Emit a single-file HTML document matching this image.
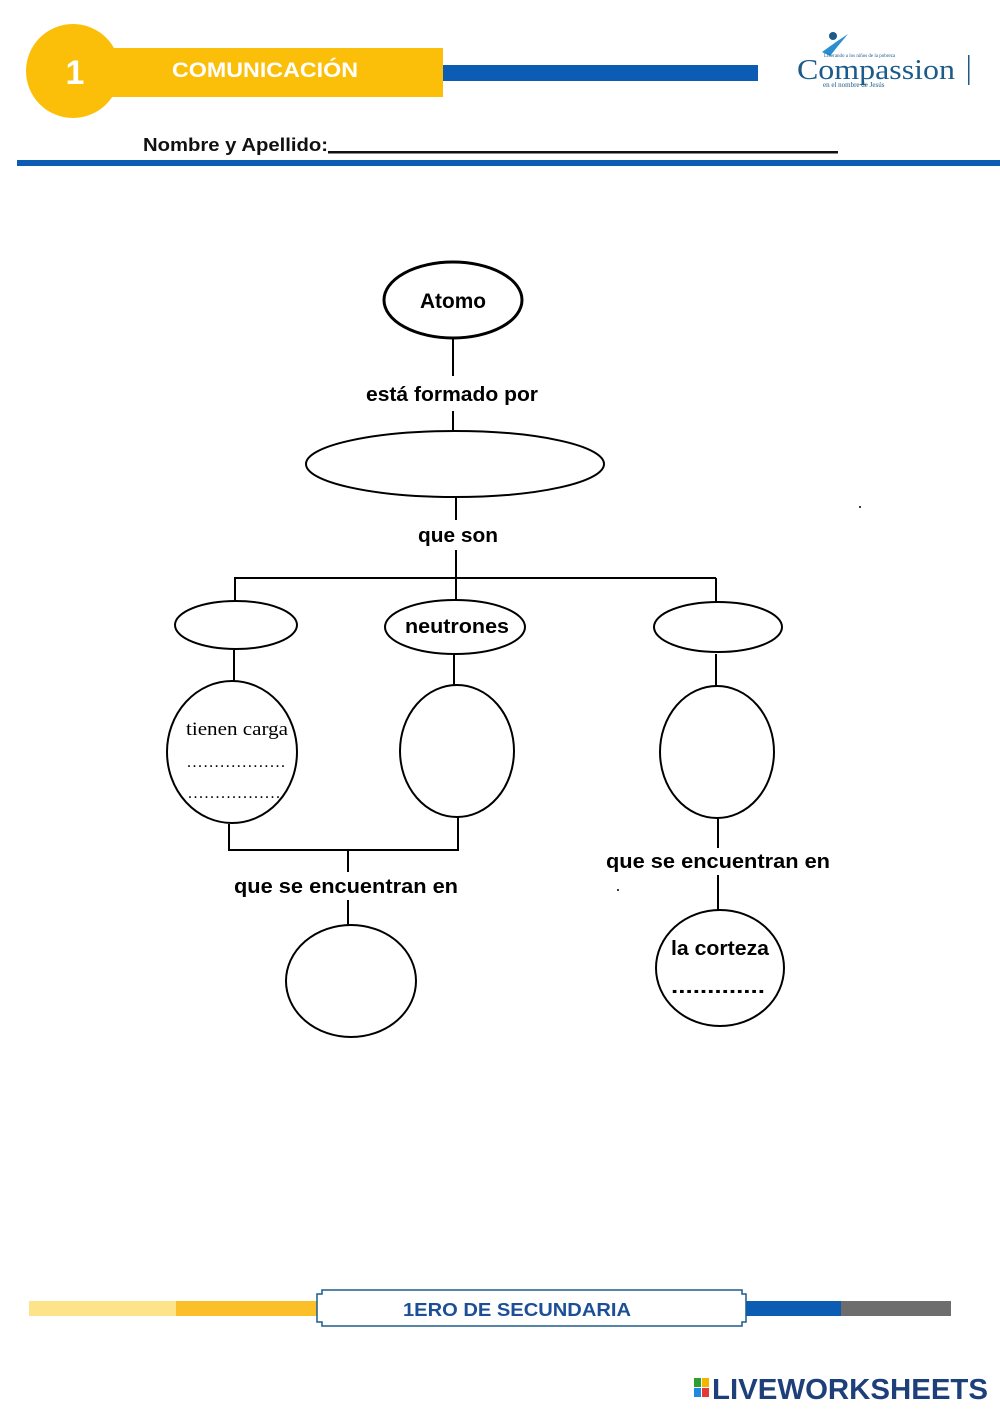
<!DOCTYPE html>
<html><head><meta charset="utf-8">
<style>
html,body{margin:0;padding:0;background:#fff;}
body{width:1000px;height:1414px;overflow:hidden;}
svg{display:block;}
</style></head><body>
<svg width="1000" height="1414" viewBox="0 0 1000 1414" xmlns="http://www.w3.org/2000/svg">
<!-- header -->
<circle cx="73" cy="71" r="47" fill="#fbbf0a"/>
<rect x="110" y="48" width="333" height="49" fill="#fbbf0a"/>
<rect x="443" y="65" width="315" height="16" fill="#0c5cb4"/>
<text x="75" y="84" font-family="Liberation Sans, sans-serif" font-weight="bold" font-size="34" fill="#fff" text-anchor="middle">1</text>
<text x="172" y="77" font-family="Liberation Sans, sans-serif" font-weight="bold" font-size="21" fill="#fff" textLength="186" lengthAdjust="spacingAndGlyphs">COMUNICACIÓN</text>
<!-- logo -->
<g fill="#1d5b8a">
<circle cx="833" cy="36" r="4"/>
<path d="M822 52 L836 42 L848 34 L838 46 L830 56 Z" fill="#2a8fd1"/>
</g>
<text x="797" y="79" font-family="Liberation Serif, serif" font-size="29" fill="#1d5b8a" textLength="158" lengthAdjust="spacingAndGlyphs">Compassion</text>
<text x="824" y="57" font-family="Liberation Serif, serif" font-size="5" fill="#1d5b8a">Liberando a los niños de la pobreza</text>
<text x="823" y="87" font-family="Liberation Serif, serif" font-size="7" fill="#1d5b8a">en el nombre de Jesús</text>
<rect x="968" y="55" width="1.5" height="30" fill="#1d5b8a"/>
<!-- name -->
<text x="143" y="151" font-family="Liberation Sans, sans-serif" font-weight="bold" font-size="18" fill="#111" textLength="185" lengthAdjust="spacingAndGlyphs">Nombre y Apellido:</text>
<rect x="328" y="151" width="510" height="2.5" fill="#111"/>
<rect x="17" y="160" width="983" height="6" fill="#0c5cb4"/>

<!-- diagram -->
<g fill="none" stroke="#000" stroke-width="2">
<ellipse cx="453" cy="300" rx="69" ry="38" stroke-width="3"/>
<line x1="453" y1="338" x2="453" y2="376"/>
<line x1="453" y1="411" x2="453" y2="431"/>
<ellipse cx="455" cy="464" rx="149" ry="33"/>
<line x1="456" y1="497" x2="456" y2="520"/>
<line x1="456" y1="550" x2="456" y2="600"/>
<line x1="234" y1="578" x2="716" y2="578"/>
<line x1="235" y1="578" x2="235" y2="601"/>
<line x1="716" y1="578" x2="716" y2="602"/>
<ellipse cx="236" cy="625" rx="61" ry="24"/>
<ellipse cx="455" cy="627" rx="70" ry="27"/>
<ellipse cx="718" cy="627" rx="64" ry="25"/>
<line x1="234" y1="650" x2="234" y2="681"/>
<ellipse cx="232" cy="752" rx="65" ry="71"/>
<line x1="454" y1="655" x2="454" y2="685"/>
<ellipse cx="457" cy="751" rx="57" ry="66"/>
<line x1="716" y1="654" x2="716" y2="686"/>
<ellipse cx="717" cy="752" rx="57" ry="66"/>
<polyline points="229,824 229,850 458,850 458,817"/>
<line x1="348" y1="850" x2="348" y2="872"/>
<line x1="348" y1="900" x2="348" y2="925"/>
<ellipse cx="351" cy="981" rx="65" ry="56"/>
<line x1="718" y1="818" x2="718" y2="848"/>
<line x1="718" y1="875" x2="718" y2="910"/>
<ellipse cx="720" cy="968" rx="64" ry="58"/>
</g>
<g font-family="Liberation Sans, sans-serif" font-weight="bold" fill="#000" text-anchor="middle">
<text x="453" y="308" font-size="21" textLength="66" lengthAdjust="spacingAndGlyphs">Atomo</text>
<text x="452" y="401" font-size="20" textLength="172" lengthAdjust="spacingAndGlyphs">está formado por</text>
<text x="458" y="542" font-size="20" textLength="80" lengthAdjust="spacingAndGlyphs">que son</text>
<text x="457" y="633" font-size="20" textLength="104" lengthAdjust="spacingAndGlyphs">neutrones</text>
<text x="346" y="893" font-size="20" textLength="224" lengthAdjust="spacingAndGlyphs">que se encuentran en</text>
<text x="718" y="868" font-size="20" textLength="224" lengthAdjust="spacingAndGlyphs">que se encuentran en</text>
<text x="720" y="955" font-size="20" textLength="98" lengthAdjust="spacingAndGlyphs">la corteza</text>
<text x="718" y="993" font-size="20" textLength="94" lengthAdjust="spacingAndGlyphs">.............</text>
</g>
<g font-family="Liberation Serif, serif" fill="#000" text-anchor="middle">
<text x="237" y="735" font-size="19" textLength="102" lengthAdjust="spacingAndGlyphs">tienen carga</text>
<text x="236" y="767" font-size="16" textLength="98" lengthAdjust="spacing">..................</text>
<text x="234" y="798" font-size="16" textLength="92" lengthAdjust="spacing">.................</text>
</g>
<circle cx="860" cy="507" r="1" fill="#000"/>
<circle cx="618" cy="890" r="1" fill="#000"/>

<!-- footer -->
<rect x="29" y="1301" width="147" height="15" fill="#fde48a"/>
<rect x="176" y="1301" width="142" height="15" fill="#fbbf2a"/>
<rect x="745" y="1301" width="96" height="15" fill="#0c5cb4"/>
<rect x="841" y="1301" width="110" height="15" fill="#6d6d6d"/>
<path d="M322 1290 L742 1290 L742 1294 L746 1294 L746 1322 L742 1322 L742 1326 L322 1326 L322 1322 L317 1322 L317 1294 L322 1294 Z" fill="#fff" stroke="#1d5b8a" stroke-width="1.5"/>
<text x="517" y="1316" font-family="Liberation Sans, sans-serif" font-weight="bold" font-size="18" fill="#1d4f96" text-anchor="middle" textLength="228" lengthAdjust="spacingAndGlyphs">1ERO DE SECUNDARIA</text>
<!-- liveworksheets -->
<rect x="694" y="1378" width="7" height="9" fill="#2ca02c"/>
<rect x="702" y="1378" width="7" height="9" fill="#f4b400"/>
<rect x="694" y="1388" width="7" height="9" fill="#1e88e5"/>
<rect x="702" y="1388" width="7" height="9" fill="#e53935"/>
<text x="712" y="1399" font-family="Liberation Sans, sans-serif" font-weight="bold" font-size="29" fill="#1d3f7a" textLength="276" lengthAdjust="spacingAndGlyphs">LIVEWORKSHEETS</text>
</svg>
</body></html>
